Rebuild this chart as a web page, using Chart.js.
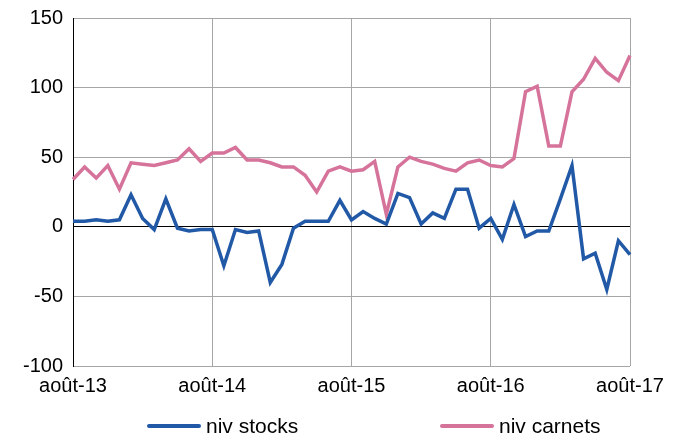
<!DOCTYPE html>
<html>
<head>
<meta charset="utf-8">
<script src="https://cdn.jsdelivr.net/npm/chart.js@4"></script>
<style>
  body { margin: 0; background: #fff; }
  #wrap { position: relative; width: 682px; height: 437px; }
  .leg { position: absolute; top: 414px; font: 21px "Liberation Sans", Arial, sans-serif; color: #000; white-space: nowrap; }
  .leg i { display: inline-block; width: 54px; height: 4px; vertical-align: middle; margin-right: 5px; position: relative; top: -1px; border-radius: 2px; }
</style>
</head>
<body>
<div id="wrap">
  <canvas id="c"></canvas>
  <div class="leg" style="left:147px"><i style="background:#2159a6"></i>niv stocks</div>
  <div class="leg" style="left:440px"><i style="background:#d6739b"></i>niv carnets</div>
</div>
<script>
// monthly, août 2013 -> août 2017
const MONTHS = ["janv", "févr", "mars", "avr", "mai", "juin", "juil", "août", "sept", "oct", "nov", "déc"];
const labels = [];
for (let k = 7; k <= 7 + 48; k++) labels.push(MONTHS[k % 12] + "-" + (13 + Math.floor(k / 12)));

const nivStocks = [4, 4, 5, 4, 5, 23, 6, -2, 20, -1, -3, -2, -2,
  -28, -2, -4, -3, -40, -27, -1, 4, 4, 4, 19, 5,
  11, 6, 2, 24, 21, 2, 10, 6, 27, 27, -1, 6,
  -9, 16, -7, -3, -3, 20, 44, -23, -19, -45, -10, -20];
const nivCarnets = [34, 43, 35, 44, 27, 46, 45, 44, 46, 48, 56, 47, 53,
  53, 57, 48, 48, 46, 43, 43, 37, 25, 40, 43, 40,
  41, 47, 9, 43, 50, 47, 45, 42, 40, 46, 48, 44,
  43, 49, 97, 101, 58, 58, 97, 106, 121, 111, 105, 123];
const yTicks = [-100, -50, 0, 50, 100, 150];

const FONT = { family: "'Liberation Sans', Arial, sans-serif", size: 20 };

new Chart(document.getElementById("c"), {
  type: "line",
  data: {
    labels,
    datasets: [
      { label: "niv stocks", data: nivStocks, borderColor: "#2159a6", backgroundColor: "#2159a6", borderWidth: 3.5, pointRadius: 0, tension: 0 },
      { label: "niv carnets", data: nivCarnets, borderColor: "#d6739b", backgroundColor: "#d6739b", borderWidth: 3.5, pointRadius: 0, tension: 0 },
    ],
  },
  options: {
    responsive: true, maintainAspectRatio: false, animation: false,
    layout: { padding: { top: 18, right: 52, bottom: 31, left: 0 } },
    plugins: { legend: { display: false }, tooltip: { enabled: false } },
    scales: {
      x: {
        grid: { drawTicks: false, color: (c) => c.index % 12 === 0 ? "#a6a6a6" : "transparent", lineWidth: 1 },
        border: { display: false },
        ticks: { autoSkip: false, maxRotation: 0, padding: 8, color: "#000", font: FONT,
          callback: (v, i) => i % 12 === 0 ? labels[i] : "" },
        afterFit: (s) => { s.height = 40; },
      },
      y: {
        min: -100, max: 150,
        afterBuildTicks: (s) => { s.ticks = yTicks.map((v) => ({ value: v })); },
        grid: { drawTicks: false, color: (c) => c.tick && c.tick.value === 0 ? "#000" : "#a6a6a6", lineWidth: 1 },
        border: { color: "#000", width: 1 },
        ticks: { padding: 10, color: "#000", font: FONT },
        afterFit: (s) => { s.width = 73; s.paddingTop = 0; s.paddingBottom = 0; },
      },
    },
  },
});
</script>
</body>
</html>
